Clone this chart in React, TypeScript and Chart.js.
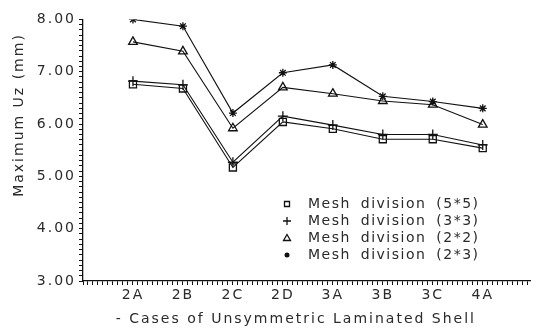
import React, { useEffect, useRef } from "react";
import { Chart, registerables } from "chart.js";

Chart.register(...registerables);

const categories = ["2A", "2B", "2C", "2D", "3A", "3B", "3C", "4A"];
const mesh55 = [6.76, 6.68, 5.17, 6.04, 5.91, 5.71, 5.71, 5.54];
const mesh33 = [6.82, 6.75, 5.27, 6.15, 5.98, 5.8, 5.8, 5.6];
const mesh22 = [7.57, 7.39, 5.92, 6.7, 6.58, 6.44, 6.37, 5.99];
const mesh23 = [8.0, 7.87, 6.21, 6.98, 7.13, 6.53, 6.43, 6.3];
const seriesNames = [
  "Mesh division (5*5)",
  "Mesh division (3*3)",
  "Mesh division (2*2)",
  "Mesh division (2*3)",
];
const xTitle = "- Cases of Unsymmetric Laminated Shell";
const yTitle = "Maximum Uz (mm)";

const INK = "#111";
const TEXT = "#2a2a2a";
const FONT = '14px "DejaVu Sans"';

function toPoints(vals: number[]) {
  return vals.map((v, i) => ({ x: i + 1, y: v }));
}

function isInt(v: number) {
  return Math.abs(v - Math.round(v)) < 1e-6;
}

const styles = ["rect", "cross", "triangle", "star"];

function drawSymbol(ctx: CanvasRenderingContext2D, kind: string, x: number, y: number) {
  ctx.save();
  ctx.strokeStyle = INK;
  ctx.fillStyle = INK;
  ctx.lineWidth = 1.3;
  ctx.beginPath();
  if (kind === "rect") {
    ctx.rect(x - 2.5, y - 2.5, 5, 5);
    ctx.stroke();
  } else if (kind === "cross") {
    ctx.moveTo(x - 4, y);
    ctx.lineTo(x + 4, y);
    ctx.moveTo(x, y - 4);
    ctx.lineTo(x, y + 4);
    ctx.stroke();
  } else if (kind === "triangle") {
    ctx.moveTo(x, y - 3.5);
    ctx.lineTo(x + 3.5, y + 2.5);
    ctx.lineTo(x - 3.5, y + 2.5);
    ctx.closePath();
    ctx.stroke();
  } else {
    ctx.arc(x, y, 2.5, 0, Math.PI * 2);
    ctx.fill();
  }
  ctx.restore();
}

const customPlugin = {
  id: "custom",
  beforeDraw(chart: any) {
    (chart.ctx as any).letterSpacing = "2px";
  },
  afterDraw(chart: any) {
    const ctx: CanvasRenderingContext2D = chart.ctx;
    const area = chart.chartArea;
    ctx.save();
    ctx.font = FONT;
    ctx.fillStyle = TEXT;
    ctx.textBaseline = "middle";
    // legend
    const lx = 279;
    const ly = 196;
    seriesNames.forEach((name, i) => {
      const y = ly + i * 17;
      drawSymbol(ctx, styles[i], lx, y);
      ctx.textAlign = "left";
      (ctx as any).letterSpacing = "1.5px";
      (ctx as any).wordSpacing = "4px";
      ctx.fillText(name, lx + 21, y);
      (ctx as any).wordSpacing = "0px";
    });
    (ctx as any).letterSpacing = "2px";
    // x title
    ctx.textAlign = "center";
    ctx.fillText(xTitle, (area.left + area.right) / 2 - 12, 311);
    // y title
    ctx.save();
    ctx.translate(11, 107);
    ctx.rotate(-Math.PI / 2);
    ctx.textAlign = "center";
    ctx.fillText(yTitle, 0, 0);
    ctx.restore();
    ctx.restore();
  },
};

function makeDataset(label: string, vals: number[], style: string, radius: number) {
  return {
    label,
    data: toPoints(vals),
    borderColor: INK,
    backgroundColor: style === "star" ? INK : "rgba(255,255,255,1)",
    borderWidth: 1.1,
    pointStyle: style,
    pointRadius: radius,
    pointBorderWidth: 1.3,
    pointBorderColor: INK,
    pointBackgroundColor: style === "star" ? INK : "rgba(255,255,255,0)",
    tension: 0,
    fill: false,
  };
}

export default function App() {
  const ref = useRef<HTMLCanvasElement | null>(null);
  useEffect(() => {
    document.documentElement.style.overflow = "hidden";
    if (!ref.current) return;
    const chart = new Chart(ref.current, {
      type: "line",
      data: {
        datasets: [
          makeDataset(seriesNames[0], mesh55, "rect", 5),
          makeDataset(seriesNames[1], mesh33, "cross", 5),
          makeDataset(seriesNames[2], mesh22, "triangle", 5),
          makeDataset(seriesNames[3], mesh23, "star", 4),
        ],
      },
      options: {
        animation: false,
        responsive: true,
        maintainAspectRatio: false,
        layout: { padding: { top: 7, right: 4, left: 0, bottom: 0 } },
        plugins: {
          legend: { display: false },
          tooltip: { enabled: false },
        },
        scales: {
          x: {
            type: "linear",
            min: 0,
            max: 9,
            afterFit(scale: any) {
              scale.height = 50;
            },
            border: { display: true, color: INK, width: 1.3 },
            grid: {
              drawOnChartArea: false,
              drawTicks: true,
              tickLength: 4,
              color: INK,
            },
            ticks: {
              stepSize: 0.1,
              autoSkip: false,
              maxTicksLimit: 1000,
              maxRotation: 0,
              minRotation: 0,
              padding: 2,
              color: TEXT,
              font: { family: "DejaVu Sans", size: 14 },
              callback: (v: any) => {
                const n = Number(v);
                if (isInt(n)) {
                  const k = Math.round(n);
                  if (k >= 1 && k <= categories.length) return categories[k - 1];
                }
                return "";
              },
            },
          },
          y: {
            type: "linear",
            min: 3,
            max: 8,
            afterFit(scale: any) {
              scale.width = 75;
            },
            border: { display: true, color: INK, width: 1.3 },
            grid: {
              drawOnChartArea: false,
              drawTicks: true,
              tickLength: 4,
              color: INK,
            },
            ticks: {
              stepSize: 0.1,
              autoSkip: false,
              maxTicksLimit: 1000,
              padding: 3,
              color: TEXT,
              font: { family: "DejaVu Sans", size: 14 },
              callback: (v: any) => {
                const n = Number(v);
                return isInt(n) ? n.toFixed(2) : "";
              },
            },
          },
        },
      },
      plugins: [customPlugin],
    } as any);
    return () => chart.destroy();
  }, []);
  return (
    <div style={{ position: "relative", width: 531, height: 323 }}>
      <canvas ref={ref} />
    </div>
  );
}
